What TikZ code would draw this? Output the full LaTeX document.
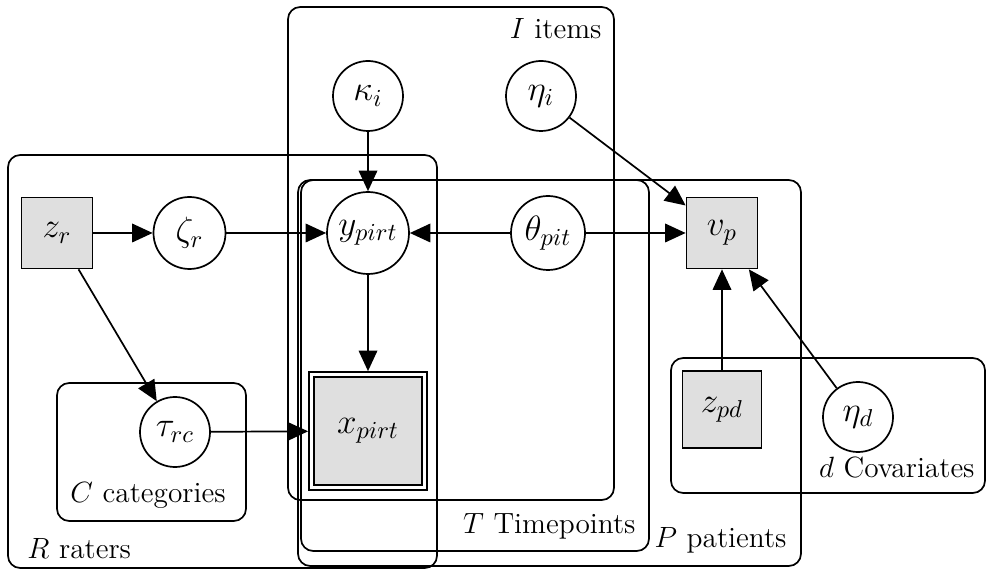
\documentclass[tikz,border=0pt]{standalone}
\usetikzlibrary{arrows.meta}
\begin{document}
\begin{tikzpicture}[x=0.4096pt,y=-0.4096pt,
  plate/.style={draw,line width=0.7pt,rounded corners=5pt},
  platelabel/.style={inner sep=0pt,font=\large},
  latent/.style={circle,draw,fill=white,line width=0.7pt,inner sep=1pt,
    minimum size=70*0.4096pt,font=\Large},
  obs/.style={rectangle,draw,fill=gray!25,line width=0.7pt,inner sep=1pt,
    minimum size=71*0.4096pt,font=\Large},
  edge/.style={-{Triangle[length=8.4pt,width=7.6pt]},line width=0.7pt}]
\useasboundingbox (0,0) rectangle (987,570);

% plates
\draw[plate] (288,7) rectangle (614,500);
\draw[plate] (301,180) rectangle (649,551);
\draw[plate] (298,180) rectangle (801,566);
\draw[plate] (8,155) rectangle (437,568);
\draw[plate] (57,383) rectangle (246,521);
\draw[plate] (671,358) rectangle (985,493);

% plate labels
\node[platelabel,anchor=base east] (lI) at (602,39) {$I$ items};
\node[platelabel,anchor=base east] (lT) at (636,533) {$T$ Timepoints};
\node[platelabel,anchor=base east] (lP) at (787,548) {$P$ patients};
\node[platelabel,anchor=base west] (lR) at (27,558) {$R$ raters};
\node[platelabel,anchor=base west] (lC) at (70,503) {$C$ categories};
\node[platelabel,anchor=base east] (ld) at (975,478) {$d$ Covariates};

% variables
\node[latent] (kappa) at (368,96) {$\kappa_i$};
\node[latent] (etai) at (541,96) {$\eta_i$};
\node[obs] (zr) at (57,233) {$z_r$};
\node[latent,minimum size=72*0.4096pt] (zeta) at (189.5,233) {$\zeta_r$};
\node[latent,minimum size=82*0.4096pt] (y) at (368,233) {$y_{pirt}$};
\node[latent,minimum size=74*0.4096pt] (theta) at (548,233) {$\theta_{pit}$};
\node[obs] (vp) at (722,233) {$v_p$};
\node[rectangle,draw,fill=white,line width=0.7pt,minimum size=118*0.4096pt] (x) at (368,431) {};
\node[obs,minimum size=108*0.4096pt] (xin) at (368,431) {$x_{pirt}$};
\node[latent] (tau) at (175,432) {$\tau_{rc}$};
\node[obs,minimum width=79*0.4096pt,minimum height=77*0.4096pt] (zpd) at (722,409.5) {$z_{pd}$};
\node[latent] (etad) at (858,417) {$\eta_d$};

% dependencies
\draw[edge] (kappa) -- (y);
\draw[edge] (etai) -- (vp);
\draw[edge] (zr) -- (zeta);
\draw[edge] (zeta) -- (y);
\draw[edge] (theta) -- (y);
\draw[edge] (theta) -- (vp);
\draw[edge] (y) -- (x);
\draw[edge] (zr) -- (tau);
\draw[edge] (tau) -- (x);
\draw[edge] (zpd) -- (vp);
\draw[edge] (etad) -- (vp);
\end{tikzpicture}
\end{document}
